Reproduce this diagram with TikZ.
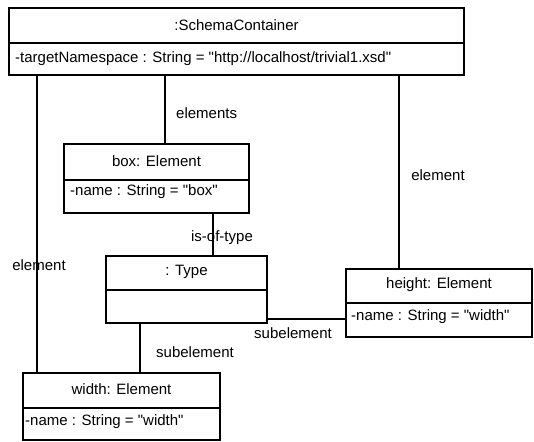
\documentclass[tikz,border=0pt]{standalone}
\usepackage{fontspec}
\newfontfamily\lsans{Liberation Sans}
\begin{document}
\begin{tikzpicture}[x=1pt,y=-1pt,
  umlbox/.style={draw, line width=1.8pt, rectangle, inner sep=0pt, outer sep=0pt, anchor=north west},
  divline/.style={line width=1.8pt},
  conn/.style={line width=1.5pt},
  lbl/.style={font=\lsans\fontsize{15}{18}\selectfont, inner sep=0pt}]
\useasboundingbox (0,0) rectangle (534,441);
% boxes
\node[umlbox, minimum width=455pt, minimum height=67pt] (sc) at (9,8) {};
\draw[divline] ([yshift=-35pt]sc.north west) -- ([yshift=-35pt]sc.north east);
\node[lbl] at ([yshift=-17pt]sc.north) {:SchemaContainer};
\node[lbl, anchor=west] at ([xshift=6pt,yshift=-51pt]sc.north west) {-targetNamespace : String = "http://localhost/trivial1.xsd"};

\node[umlbox, minimum width=185pt, minimum height=69pt] (box) at (64,144) {};
\draw[divline] ([yshift=-36pt]box.north west) -- ([yshift=-36pt]box.north east);
\node[lbl] at ([yshift=-17pt]box.north) {box: Element};
\node[lbl, anchor=west] at ([xshift=6pt,yshift=-48pt]box.north west) {-name : String = "box"};

\node[umlbox, minimum width=161pt, minimum height=67pt] (type) at (106,256) {};
\draw[divline] ([yshift=-34pt]type.north west) -- ([yshift=-34pt]type.north east);
\node[lbl] at ([yshift=-16pt]type.north) {: Type};

\node[umlbox, minimum width=186pt, minimum height=68pt] (hgt) at (346,269) {};
\draw[divline] ([yshift=-34pt]hgt.north west) -- ([yshift=-34pt]hgt.north east);
\node[lbl] at ([yshift=-16pt]hgt.north) {height: Element};
\node[lbl, anchor=west] at ([xshift=5pt,yshift=-48pt]hgt.north west) {-name : String = "width"};

\node[umlbox, minimum width=197pt, minimum height=67pt] (wid) at (23,373) {};
\draw[divline] ([yshift=-35pt]wid.north west) -- ([yshift=-35pt]wid.north east);
\node[lbl] at ([yshift=-16pt]wid.north) {width: Element};
\node[lbl, anchor=west] at ([xshift=2pt,yshift=-49pt]wid.north west) {-name : String = "width"};

% connector x positions
\coordinate (xa) at (37,0);
\coordinate (xb) at (165,0);
\coordinate (xc) at (399,0);
\coordinate (xd) at (213,0);
\coordinate (xe) at (140,0);
\coordinate (yd) at (0,319);

\draw[conn] (sc.south -| xa) -- (wid.north -| xa);
\draw[conn] (sc.south -| xb) -- (box.north -| xb);
\draw[conn] (sc.south -| xc) -- (hgt.north -| xc);
\draw[conn] (box.south -| xd) -- (type.north -| xd);
\draw[conn] (type.east |- yd) -- (hgt.west |- yd);
\draw[conn] (type.south -| xe) -- (wid.north -| xe);

% labels
\node[lbl] (l1) at (39,265) {element};
\node[lbl, anchor=west] (l2) at (176,113) {elements};
\node[lbl] (l3) at (438,175) {element};
\node[lbl] (l4) at (222,238) {is-of-type};
\node[lbl] (l5) at (293,333) {subelement};
\node[lbl] (l6) at (195,352) {subelement};
\end{tikzpicture}
\end{document}
